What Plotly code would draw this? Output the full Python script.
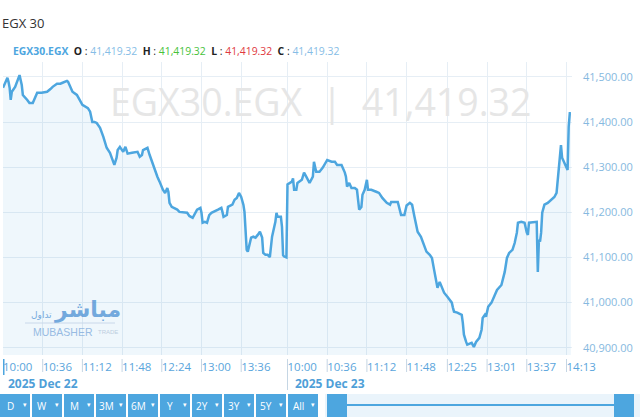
import plotly.graph_objects as go

TITLE = "EGX 30"
SYMBOL = "EGX30.EGX"

day1_date = "2025-12-22"
day1_times = ["10:00", "10:01", "10:04", "10:05", "10:06", "10:07", "10:08", "10:11", "10:14", "10:15",
              "10:17", "10:18", "10:22", "10:24", "10:27", "10:31", "10:35", "10:40", "10:43", "10:45",
              "10:49", "10:52", "10:54", "10:58", "10:59", "11:01", "11:03", "11:07", "11:10", "11:12",
              "11:17", "11:19", "11:21", "11:23", "11:25", "11:28", "11:31", "11:34", "11:37", "11:40",
              "11:41", "11:43", "11:44", "11:46", "11:49", "11:51", "11:53", "11:57", "12:02", "12:04",
              "12:06", "12:07", "12:11", "12:13", "12:16", "12:18", "12:20", "12:22", "12:25", "12:27",
              "12:29", "12:30", "12:31", "12:33", "12:38", "12:40", "12:47", "12:49", "12:52", "12:56",
              "12:59", "13:00", "13:01", "13:03", "13:05", "13:07", "13:09", "13:15", "13:18", "13:19",
              "13:20", "13:23", "13:24", "13:28", "13:30", "13:32", "13:34", "13:36", "13:38", "13:39",
              "13:40", "13:41", "13:42", "13:43", "13:45", "13:47", "13:49", "13:51", "13:53", "13:55",
              "13:56", "13:58", "14:00", "14:02", "14:04", "14:07", "14:08", "14:09", "14:12", "14:13",
              "14:14", "14:15", "14:17"]
day1_values = [41476, 41482, 41498, 41489, 41476, 41449, 41467, 41478, 41500, 41504,
               41482, 41460, 41449, 41442, 41442, 41465, 41465, 41467, 41473, 41478,
               41485, 41485, 41487, 41491, 41489, 41478, 41467, 41460, 41445, 41438,
               41431, 41423, 41400, 41400, 41398, 41387, 41367, 41343, 41332, 41312,
               41305, 41321, 41338, 41345, 41334, 41345, 41330, 41332, 41334, 41323,
               41327, 41338, 41343, 41327, 41305, 41290, 41279, 41268, 41250, 41243,
               41254, 41245, 41221, 41212, 41206, 41201, 41199, 41192, 41188, 41206,
               41210, 41199, 41177, 41179, 41177, 41194, 41199, 41206, 41210, 41201,
               41190, 41194, 41212, 41217, 41228, 41232, 41243, 41234, 41217, 41201,
               41161, 41117, 41113, 41124, 41144, 41146, 41144, 41150, 41157, 41144,
               41110, 41106, 41106, 41101, 41146, 41179, 41199, 41190, 41190, 41168,
               41105, 41102, 41100]

day2_date = "2025-12-23"
day2_times = ["10:00", "10:04", "10:05", "10:06", "10:08", "10:09", "10:13", "10:15", "10:17", "10:20",
              "10:23", "10:24", "10:26", "10:29", "10:32", "10:35", "10:36", "10:40", "10:43", "10:45",
              "10:49", "10:52", "10:53", "10:54", "10:56", "10:58", "11:01", "11:03", "11:04", "11:05",
              "11:07", "11:08", "11:10", "11:12", "11:13", "11:16", "11:21", "11:23", "11:26", "11:30",
              "11:33", "11:34", "11:40", "11:41", "11:43", "11:46", "11:48", "11:51", "11:53", "11:55",
              "11:57", "11:58", "12:01", "12:04", "12:06", "12:09", "12:11", "12:13", "12:15", "12:16",
              "12:18", "12:20", "12:22", "12:25", "12:29", "12:30", "12:31", "12:34", "12:38", "12:39",
              "12:40", "12:42", "12:43", "12:47", "12:49", "12:51", "12:54", "12:56", "12:57", "12:59",
              "13:00", "13:02", "13:05", "13:08", "13:10", "13:14", "13:17", "13:19", "13:21", "13:24",
              "13:26", "13:28", "13:29", "13:32", "13:35", "13:37", "13:38", "13:39", "13:46", "13:47",
              "13:48", "13:49", "13:50", "13:51", "13:53", "13:56", "13:59", "14:02", "14:04", "14:05",
              "14:07", "14:08", "14:09", "14:13", "14:14", "14:15", "14:16", "14:17"]
day2_values = [41262, 41268, 41275, 41250, 41250, 41265, 41272, 41288, 41279, 41265,
               41279, 41312, 41290, 41290, 41299, 41312, 41316, 41312, 41312, 41305,
               41305, 41288, 41279, 41257, 41265, 41254, 41254, 41250, 41217, 41206,
               41212, 41239, 41250, 41272, 41250, 41250, 41245, 41243, 41232, 41221,
               41217, 41223, 41223, 41212, 41194, 41194, 41215, 41221, 41217, 41192,
               41168, 41157, 41146, 41128, 41113, 41106, 41099, 41072, 41039, 41033,
               41046, 41033, 41022, 41013, 41000, 40989, 40980, 40978, 40973, 40955,
               40929, 40913, 40907, 40911, 40902, 40913, 40922, 40940, 40966, 40973,
               40969, 40991, 41000, 41017, 41028, 41039, 41068, 41099, 41110, 41117,
               41132, 41155, 41177, 41179, 41177, 41155, 41150, 41177, 41179, 41068,
               41139, 41135, 41155, 41199, 41217, 41221, 41228, 41234, 41243, 41272,
               41316, 41349, 41321, 41301, 41294, 41390, 41419.32, 41419.32]

day1_ticks = ["10:00", "10:36", "11:12", "11:48", "12:24", "13:00", "13:36"]
day2_ticks = ["10:00", "10:36", "11:12", "11:48", "12:25", "13:01", "13:37", "14:13"]
day_labels = ["2025 Dec 22", "2025 Dec 23"]
y_ticks = [40900, 41000, 41100, 41200, 41300, 41400, 41500]
range_buttons = ["D", "W", "M", "3M", "6M", "Y", "2Y", "3Y", "5Y", "All"]

BLUE = "#4da6df"
GRID = "#e6eef5"
FONT = "Open Sans"

# pixel frame of the plot area
W, H = 640, 417
L, R, T, B = 3, 572, 62, 355


def px(x):
    return (x - L) / (R - L)


def py(y):
    return (B - y) / (B - T)


x_vals = [f"{day1_date} {t}" for t in day1_times] + [f"{day2_date} {t}" for t in day2_times]
y_vals = day1_values + day2_values
last = y_vals[-1]
last_txt = f"{last:,.2f}"

tick_vals = [f"{day1_date} {t}" for t in day1_ticks] + [f"{day2_date} {t}" for t in day2_ticks]

fig = go.Figure()
fig.add_trace(go.Scatter(
    x=x_vals, y=y_vals, mode="lines",
    line=dict(color=BLUE, width=2.5),
    fill="tozeroy", fillcolor="rgba(77,166,223,0.09)",
    hoverinfo="skip", showlegend=False,
))

shapes = []
# tick separators under the axis
for i, tv in enumerate(tick_vals):
    if i == 0:
        shapes.append(dict(type="line", xref="x", yref="paper", x0=tv, x1=tv,
                           y0=py(359), y1=py(375), line=dict(color=BLUE, width=3)))
    elif tv.endswith(" 10:00"):
        shapes.append(dict(type="line", xref="x", yref="paper", x0=tv, x1=tv,
                           y0=py(359), y1=py(390), line=dict(color="#c5d6e4", width=1)))
    else:
        shapes.append(dict(type="line", xref="x", yref="paper", x0=tv, x1=tv,
                           y0=py(359), y1=py(372), line=dict(color="#c5d6e4", width=1)))

# range buttons
annotations = []
for i, lab in enumerate(range_buttons):
    x0 = 32 * i
    x1 = x0 + 30
    shapes.append(dict(type="rect", xref="paper", yref="paper", x0=px(x0), x1=px(x1),
                       y0=py(394), y1=py(417), fillcolor=BLUE, line=dict(width=0)))
    annotations.append(dict(xref="paper", yref="paper", x=px(x0 + 10), y=py(406), text=lab,
                            showarrow=False, xanchor="center", yanchor="middle",
                            font=dict(family=FONT, size=10, color="white")))
    annotations.append(dict(xref="paper", yref="paper", x=px(x0 + 25), y=py(405), text="▾",
                            showarrow=False, xanchor="center", yanchor="middle",
                            font=dict(family="DejaVu Sans", size=7, color="white")))

# navigator
shapes += [
    dict(type="rect", xref="paper", yref="paper", x0=px(325), x1=px(640), y0=py(394), y1=py(417),
         fillcolor="#eaf4fb", line=dict(width=0)),
    dict(type="line", xref="paper", yref="paper", x0=px(347), x1=px(614), y0=py(405), y1=py(405),
         line=dict(color=BLUE, width=2)),
    dict(type="rect", xref="paper", yref="paper", x0=px(327), x1=px(347), y0=py(394), y1=py(417),
         fillcolor=BLUE, line=dict(width=0)),
    dict(type="rect", xref="paper", yref="paper", x0=px(614), x1=px(634), y0=py(394), y1=py(417),
         fillcolor=BLUE, line=dict(width=0)),
]

# dates under the time labels
for lab, x in zip(day_labels, [6, 293]):
    annotations.append(dict(xref="paper", yref="paper", x=px(x), y=py(383), text=f"<b>{lab}</b>",
                            showarrow=False, xanchor="left", yanchor="middle",
                            font=dict(family=FONT, size=12, color="#4f9fd8")))

# title and OHLC line
annotations.append(dict(xref="paper", yref="paper", x=px(0), y=py(23), text=TITLE, showarrow=False,
                        xanchor="left", yanchor="middle",
                        font=dict(family=FONT, size=13, color="#333333")))
sp = "\u00a0"
ohlc = (f"<b><span style='color:{BLUE}'>{SYMBOL}</span></b>{sp*2}"
        f"<b>O</b>{sp}:{sp}<span style='color:#86bde6'>{last_txt}</span>{sp*2}"
        f"<b>H</b>{sp}:{sp}<span style='color:#47c23a'>{last_txt}</span>{sp*2}"
        f"<b>L</b>{sp}:{sp}<span style='color:#e0383e'>{last_txt}</span>{sp*2}"
        f"<b>C</b>{sp}:{sp}<span style='color:#86bde6'>{last_txt}</span>")
annotations.append(dict(xref="paper", yref="paper", x=px(11), y=py(51), text=ohlc, showarrow=False,
                        xanchor="left", yanchor="middle",
                        font=dict(family=FONT, size=10.4, color="#222222")))

# watermark
annotations.append(dict(xref="paper", yref="paper", x=px(320), y=py(101),
                        text=f"{SYMBOL}{sp*2}|{sp*2}{last_txt}", showarrow=False,
                        xanchor="center", yanchor="middle",
                        font=dict(family=FONT, size=37.5, color="#e6e6e6")))

# mubasher logo
annotations += [
    dict(xref="paper", yref="paper", x=px(87), y=py(310), text="<b>مباشر</b>", showarrow=False,
         xanchor="center", yanchor="middle", opacity=0.75,
         font=dict(family="DejaVu Sans", size=22, color="#4a8fd3")),
    dict(xref="paper", yref="paper", x=px(41), y=py(315), text="تداول", showarrow=False,
         xanchor="center", yanchor="middle", opacity=0.75,
         font=dict(family="DejaVu Sans", size=9, color="#4a8fd3")),
    dict(xref="paper", yref="paper", x=px(31), y=py(332), text="MUBASHER", showarrow=False,
         xanchor="left", yanchor="middle", opacity=0.75,
         font=dict(family="Liberation Sans", size=10.5, color="#7aa8da")),
    dict(xref="paper", yref="paper", x=px(96), y=py(332), text="TRADE", showarrow=False,
         xanchor="left", yanchor="middle", opacity=0.6,
         font=dict(family="Liberation Sans", size=6, color="#9ab3cc")),
]
shapes.append(dict(type="line", xref="paper", yref="paper", x0=px(25), x1=px(115),
                   y0=py(323), y1=py(323), line=dict(color="#c9d8ea", width=1)))

fig.update_layout(
    width=W, height=H,
    margin=dict(l=L, r=W - R, t=T, b=H - B, pad=0),
    paper_bgcolor="white", plot_bgcolor="white",
    shapes=shapes, annotations=annotations,
    xaxis=dict(
        type="date",
        range=[f"{day1_date} 10:00", f"{day2_date} 14:18"],
        rangebreaks=[dict(bounds=[14.3, 10], pattern="hour")],
        tickvals=tick_vals, ticktext=day1_ticks + day2_ticks,
        ticklabelposition="outside right",
        ticklabelstandoff=3,
        ticks="", showline=False, zeroline=False,
        showgrid=True, gridcolor=GRID, gridwidth=1,
        tickfont=dict(family=FONT, size=11.5, color="#5aa5dc"),
    ),
    yaxis=dict(
        side="right",
        range=[40884, 41533],
        tickvals=y_ticks, tickformat=",.2f",
        ticks="", showline=False, zeroline=False,
        showgrid=True, gridcolor=GRID, gridwidth=1,
        ticklabelstandoff=10,
        tickfont=dict(family=FONT, size=11, color="#86b9e0"),
    ),
)

# the page body has a default 8px margin; drop it so the figure fills the window
fig.write_html("out.html", config={"displayModeBar": False},
               post_script="document.body.style.margin = '0';")
